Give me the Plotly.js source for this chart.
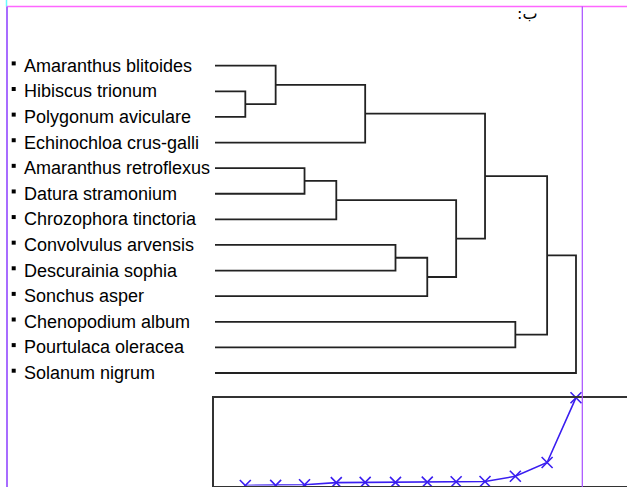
<!DOCTYPE html>
<html>
<head>
<meta charset="utf-8">
<script src="https://cdn.plot.ly/plotly-3.0.1.min.js"></script>
<style>html,body{margin:0;padding:0;background:#fff;}#chart{width:627px;height:487px;}</style>
</head>
<body>
<div id="chart"></div>
<script>
// ---- data ----
const speciesLabels = [
  "Amaranthus blitoides", "Hibiscus trionum", "Polygonum aviculare",
  "Echinochloa crus-galli", "Amaranthus retroflexus", "Datura stramonium",
  "Chrozophora tinctoria", "Convolvulus arvensis", "Descurainia sophia",
  "Sonchus asper", "Chenopodium album", "Pourtulaca oleracea", "Solanum nigrum"
];
// agglomeration schedule (leaves 0..12, new clusters numbered 13..)
const mergeA = [1, 0, 4, 15, 14, 7, 18, 16, 17, 10, 21, 23];
const mergeB = [2, 13, 5, 6, 3, 8, 9, 19, 20, 11, 22, 12];
const mergeHeight = [2.1, 4.2, 6.2, 8.4, 10.4, 12.5, 14.7, 16.7, 18.7, 20.8, 23.0, 25.0];
// coefficients plotted in the lower panel
const coefficient = [0.75, 0.78, 0.95, 1.55, 1.6, 1.6, 1.7, 1.8, 1.85, 3.3, 7.1, 25];
const panelLetter = "ب:\u200F";

// ---- layout geometry ----
const W = 627, H = 487;
const x0px = 215, pxPerUnit = 361 / 25;      // distance 0 -> 215px
const y0px = 65.7, pxPerLeaf = 25.61;        // leaf 0 -> 65.7px
const xRange = [-x0px / pxPerUnit, (W - x0px) / pxPerUnit];
const yRange = [(H - y0px) / pxPerLeaf, -y0px / pxPerLeaf];

// build dendrogram path
const pos = speciesLabels.map((_, i) => ({x: 0, y: i}));
const dx = [], dy = [];
mergeHeight.forEach((h, k) => {
  const a = pos[mergeA[k]], b = pos[mergeB[k]];
  dx.push(a.x, h, h, b.x, null);
  dy.push(a.y, a.y, b.y, b.y, null);
  pos.push({x: h, y: (a.y + b.y) / 2});
});

const traces = [
  {x: dx, y: dy, mode: 'lines', type: 'scatter', xaxis: 'x', yaxis: 'y',
   line: {color: '#222', width: 1.8}, hoverinfo: 'skip', cliponaxis: false},
  {x: speciesLabels.map(() => (13.7 - x0px) / pxPerUnit),
   y: speciesLabels.map((_, i) => i - 0.09),
   mode: 'markers', type: 'scatter', xaxis: 'x', yaxis: 'y',
   marker: {symbol: 'square', size: 4, color: '#000'}, hoverinfo: 'skip'},
  {x: mergeHeight, y: coefficient, mode: 'lines+markers', type: 'scatter',
   xaxis: 'x2', yaxis: 'y2', cliponaxis: false,
   line: {color: '#3a1ef0', width: 1.6},
   marker: {symbol: 'x-thin-open', size: 11, color: '#3a1ef0', line: {color: '#3a1ef0', width: 1.6}}}
];

const annotations = speciesLabels.map((t, i) => ({
  text: t, xref: 'paper', yref: 'y', x: 22 / W, y: i,
  xanchor: 'left', yanchor: 'middle', showarrow: false,
  font: {family: 'Arial, "Liberation Sans", sans-serif', size: 18, color: '#000'}
}));
annotations.push({
  text: panelLetter, xref: 'paper', yref: 'paper', x: 539 / W, y: (H - 13) / H,
  xanchor: 'right', yanchor: 'middle', showarrow: false,
  font: {family: '"DejaVu Sans", "Noto Sans", sans-serif', size: 16, color: '#000'}
});

const boxTop = 397.7, boxBottom = 485.5, boxLeft = 214;
const y2Range = [0.75, 25];

const layout = {
  width: W, height: H, margin: {l: 0, r: 0, t: 0, b: 0},
  paper_bgcolor: '#fff', plot_bgcolor: 'rgba(0,0,0,0)', showlegend: false,
  xaxis: {domain: [0, 1], range: xRange, visible: false, fixedrange: true},
  yaxis: {domain: [0, 1], range: yRange, visible: false, fixedrange: true},
  xaxis2: {domain: [boxLeft / W, 1], anchor: 'y2',
    range: [(boxLeft - x0px) / pxPerUnit, (W - x0px) / pxPerUnit],
    showline: true, mirror: true, linecolor: '#333', linewidth: 1.6,
    showgrid: false, zeroline: false, showticklabels: false, ticks: ''},
  yaxis2: {domain: [(H - boxBottom) / H, (H - boxTop) / H], anchor: 'x2',
    range: y2Range, showline: true, mirror: false, linecolor: '#333', linewidth: 1.6,
    showgrid: false, zeroline: false, showticklabels: false, ticks: ''},
  annotations: annotations,
  shapes: [
    {type: 'line', xref: 'paper', yref: 'paper', x0: 6 / W, x1: 1, y0: (H - 6.5) / H, y1: (H - 6.5) / H,
     line: {color: '#ff66ff', width: 1.5}, layer: 'above'},
    {type: 'line', xref: 'paper', yref: 'paper', x0: 7 / W, x1: 7 / W, y0: 0, y1: (H - 6.5) / H,
     line: {color: '#a86cff', width: 2}, layer: 'above'},
    {type: 'line', xref: 'paper', yref: 'paper', x0: 6.5 / W, x1: 6.5 / W, y0: (H - 6.5) / H, y1: 1,
     line: {color: '#66ffff', width: 1.5}, layer: 'above'},
    {type: 'line', xref: 'paper', yref: 'paper', x0: 582.3 / W, x1: 582.3 / W, y0: 0, y1: (H - 6.5) / H,
     line: {color: '#a64dff', width: 1.2}, layer: 'above'}
  ]
};

Plotly.newPlot('chart', traces, layout, {staticPlot: true, displayModeBar: false});
</script>
</body>
</html>
